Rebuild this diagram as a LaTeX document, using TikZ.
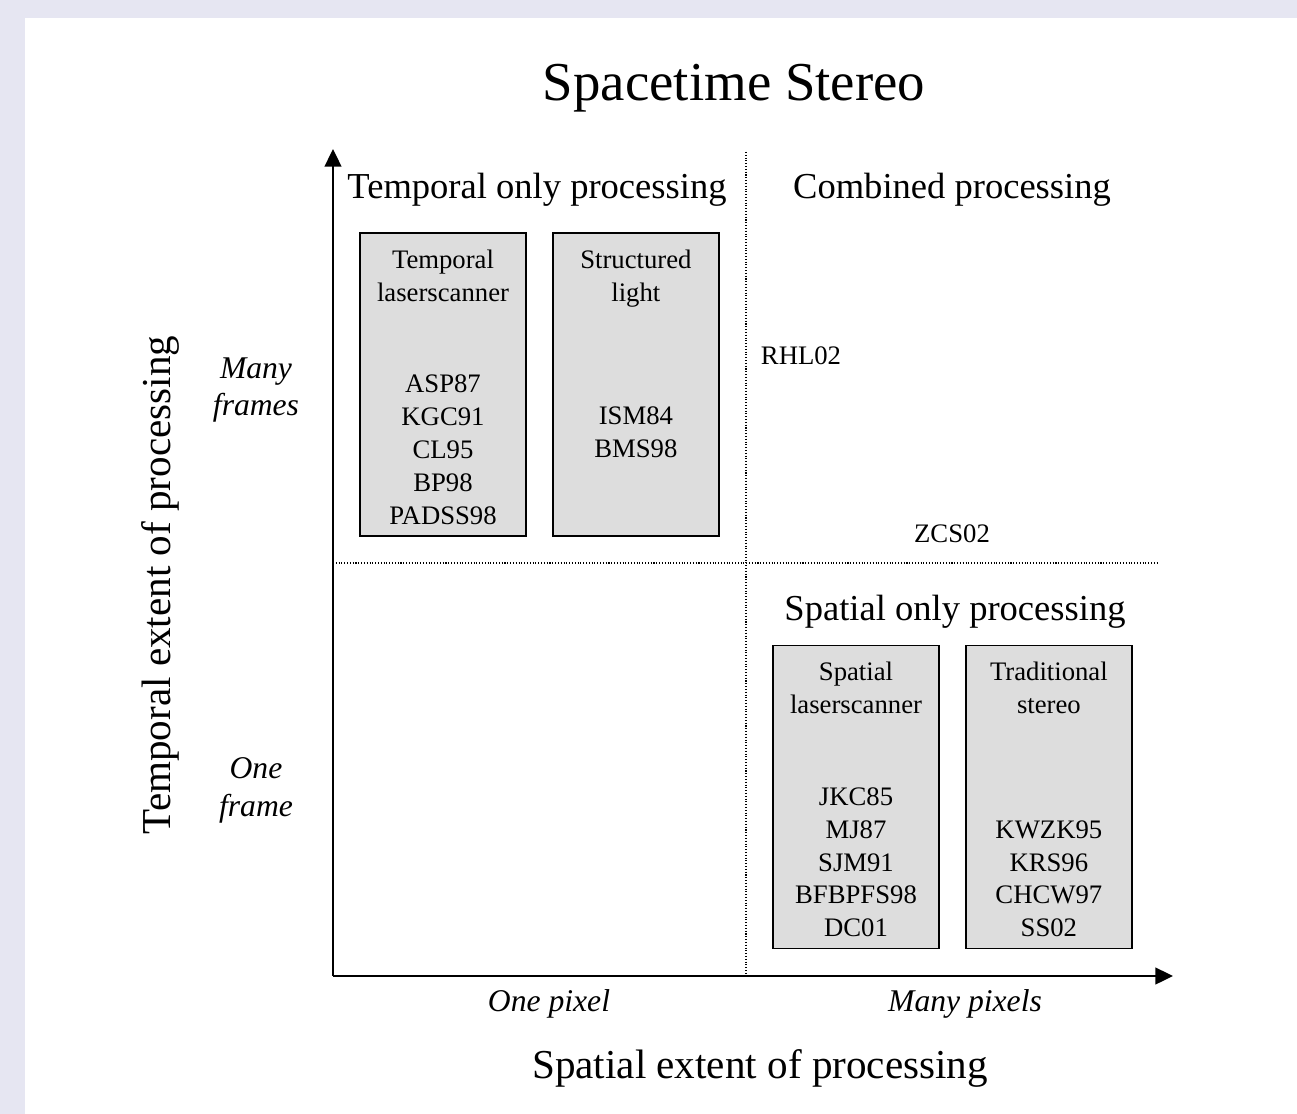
\documentclass[tikz,border=0pt]{standalone}
\usepackage{fontspec}
\setmainfont{Liberation Serif}
\usetikzlibrary{arrows.meta, calc, positioning}
\definecolor{pagebg}{RGB}{230,230,242}
\definecolor{boxgray}{RGB}{221,221,221}

\begin{document}
\begin{tikzpicture}[x=0.02cm, y=-0.02cm]
% TikZ styles
\tikzset{
  method/.style={rectangle, draw=black, fill=boxgray, line width=0.8pt, minimum width=3.32cm, minimum height=6.06cm, inner sep=0pt},
  boxtext/.style={anchor=base, align=center, inner sep=0pt, font=\fontsize{15.2}{18.7}\selectfont},
  ref/.style={anchor=base, inner sep=0pt, font=\fontsize{15.2}{18}\selectfont},
  quadrant/.style={anchor=base, inner sep=0pt, font=\fontsize{20.8}{24}\selectfont},
  tick/.style={anchor=base, align=center, inner sep=0pt, font=\fontsize{18}{21.5}\selectfont\itshape},
  axislabel/.style={anchor=base, inner sep=0pt, font=\fontsize{23.4}{28}\selectfont},
  axis/.style={-{Triangle[length=10pt, width=9.5pt]}, line width=1.1pt},
  divider/.style={densely dotted, line width=0.6pt}
}

%==========================
% Hintergrund
%==========================
\useasboundingbox (0,0) rectangle (1297,1114);
\fill[pagebg] (0,0) rectangle (1297,1114);
\fill[white] (25,18) rectangle (1297,1114);

\node[anchor=base, inner sep=0pt, font=\fontsize{31.2}{36}\selectfont] (title) at (734,101) {Spacetime Stereo};

%==========================
% Achsen und Quadranten
%==========================
\coordinate (origin) at (333,976);
\coordinate (ytop) at (333,149);
\coordinate (xend) at (1173,976);
\coordinate (vtop) at (746,152);
\coordinate (vbot) at (746,976);
\coordinate (hleft) at (333,563);
\coordinate (hright) at (1157,563);

\draw[divider] (vtop) -- (vbot);
\draw[divider] (hleft) -- (hright);
\draw[axis] (origin) -- (ytop);
\draw[axis] (origin) -- (xend);

\node[quadrant] (temponly) at (537,199) {Temporal only processing};
\node[quadrant] (combined) at (952,199) {Combined processing};
\node[quadrant] (spatonly) at (955,620) {Spatial only processing};

\node[ref] (rhl) at (801,365) {RHL02};
\node[ref] (zcs) at (952,542) {ZCS02};

%==========================
% Methoden-Boxen
%==========================
\node[method] (tlaser) at (443,384.5) {};
\node[method, right=0.51cm of tlaser] (slight) {};
\node[method] (splaser) at (856,797) {};
\node[method, right=0.51cm of splaser] (tstereo) {};

% base = Grundlinie der letzten Zeile
\node[boxtext] (tlasername) at ($(tlaser.north) + (0,69)$) {Temporal\\laserscanner};
\node[boxtext] (tlaserrefs) at ($(tlaser.north) + (0,292)$) {ASP87\\KGC91\\CL95\\BP98\\PADSS98};

\node[boxtext] (slightname) at ($(slight.north) + (0,69)$) {Structured\\light};
\node[boxtext] (slightrefs) at ($(slight.north) + (0,225)$) {ISM84\\BMS98};

\node[boxtext] (splasername) at ($(splaser.north) + (0,69)$) {Spatial\\laserscanner};
\node[boxtext] (splaserrefs) at ($(splaser.north) + (0,292)$) {JKC85\\MJ87\\SJM91\\BFBPFS98\\DC01};

\node[boxtext] (tstereoname) at ($(tstereo.north) + (0,69)$) {Traditional\\stereo};
\node[boxtext] (tstereorefs) at ($(tstereo.north) + (0,292)$) {KWZK95\\KRS96\\CHCW97\\SS02};

%==========================
% Achsenbeschriftung
%==========================
\node[tick] (manyframes) at (256,416) {Many\\frames};
\node[tick] (oneframe) at (256,816) {One\\frame};
\node[tick] (onepixel) at (549,1011) {One pixel};
\node[tick] (manypixels) at (965,1011) {Many pixels};

\node[axislabel] (xlabel) at (760,1078) {Spatial extent of processing};
\node[axislabel, rotate=90] (ylabel) at (170,585) {Temporal extent of processing};
\end{tikzpicture}
\end{document}
